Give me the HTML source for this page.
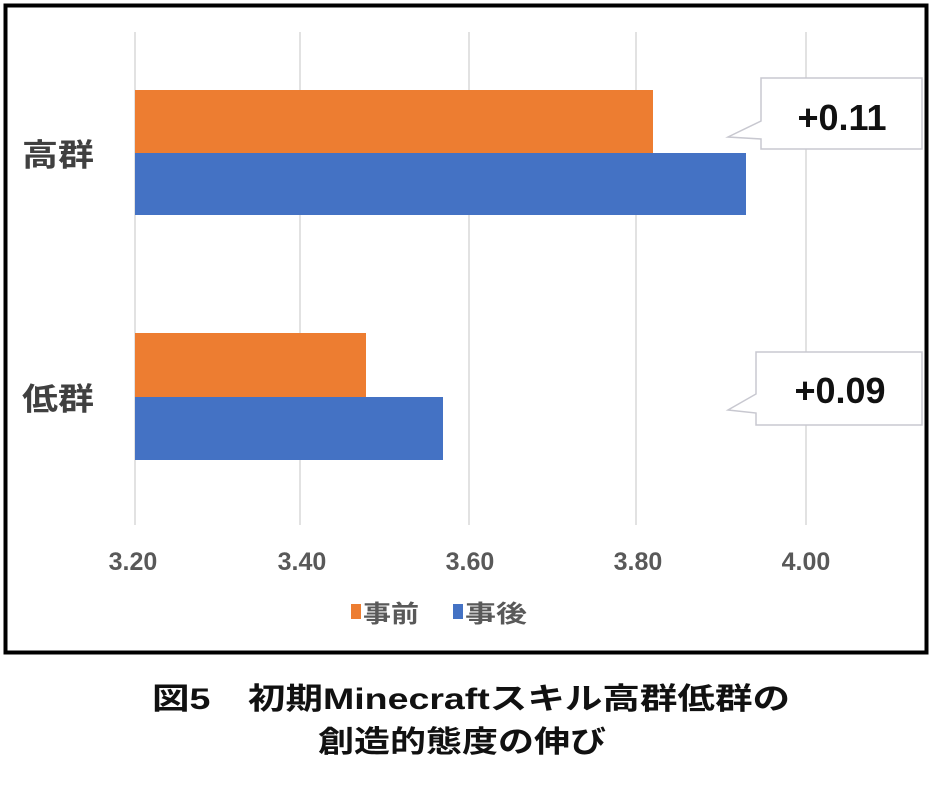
<!DOCTYPE html>
<html><head><meta charset="utf-8"><style>
body{margin:0;background:#fff;}
svg{display:block;}
text{font-family:"Liberation Sans","Noto Sans CJK JP",sans-serif;}
</style></head><body>
<svg width="932" height="790" viewBox="0 0 932 790">
<rect x="0" y="0" width="932" height="790" fill="#fff"/>
<rect x="5.5" y="5.5" width="921" height="647" fill="#fff" stroke="#000" stroke-width="4"/>
<g stroke="#d9d9d9" stroke-width="1.5">
<line x1="135" y1="32" x2="135" y2="525"/>
<line x1="300" y1="32" x2="300" y2="525"/>
<line x1="469" y1="32" x2="469" y2="525"/>
<line x1="636" y1="32" x2="636" y2="525"/>
<line x1="806" y1="32" x2="806" y2="525"/>
</g>
<rect x="135" y="90" width="518" height="63" fill="#ed7d31"/>
<rect x="135" y="153" width="611" height="62" fill="#4472c4"/>
<rect x="135" y="333" width="231" height="64" fill="#ed7d31"/>
<rect x="135" y="397" width="308" height="63" fill="#4472c4"/>
<g font-size="31" font-weight="bold" fill="#404040">
<text x="22" y="166" textLength="72" lengthAdjust="spacingAndGlyphs">高群</text>
<text x="22" y="410" textLength="72" lengthAdjust="spacingAndGlyphs">低群</text>
</g>
<g font-size="25" font-weight="bold" fill="#595959" text-anchor="middle">
<text x="133" y="570">3.20</text>
<text x="302" y="570">3.40</text>
<text x="470" y="570">3.60</text>
<text x="638" y="570">3.80</text>
<text x="806" y="570">4.00</text>
</g>
<rect x="351" y="604" width="10" height="15" fill="#ed7d31"/>
<text x="363" y="622" font-size="24" font-weight="bold" fill="#595959" textLength="56" lengthAdjust="spacingAndGlyphs">事前</text>
<rect x="453" y="604" width="10" height="15" fill="#4472c4"/>
<text x="465" y="622" font-size="24" font-weight="bold" fill="#595959" textLength="62" lengthAdjust="spacingAndGlyphs">事後</text>
<path d="M761 78 H922 V149 H761 V139 L728 137 L761 121 Z" fill="#fff" stroke="#c8c8d0" stroke-width="1.5"/>
<text x="842" y="130" font-size="36" font-weight="bold" fill="#111" text-anchor="middle">+0.11</text>
<path d="M756 352 H922 V425 H756 V413 L728 410 L756 394 Z" fill="#fff" stroke="#c8c8d0" stroke-width="1.5"/>
<text x="840" y="403" font-size="36" font-weight="bold" fill="#111" text-anchor="middle">+0.09</text>
<g font-size="30" font-weight="bold" fill="#111">
<text x="152" y="709" textLength="638" lengthAdjust="spacingAndGlyphs">図5　初期Minecraftスキル高群低群の</text>
<text x="318" y="752" textLength="288" lengthAdjust="spacingAndGlyphs">創造的態度の伸び</text>
</g>
</svg>
</body></html>
